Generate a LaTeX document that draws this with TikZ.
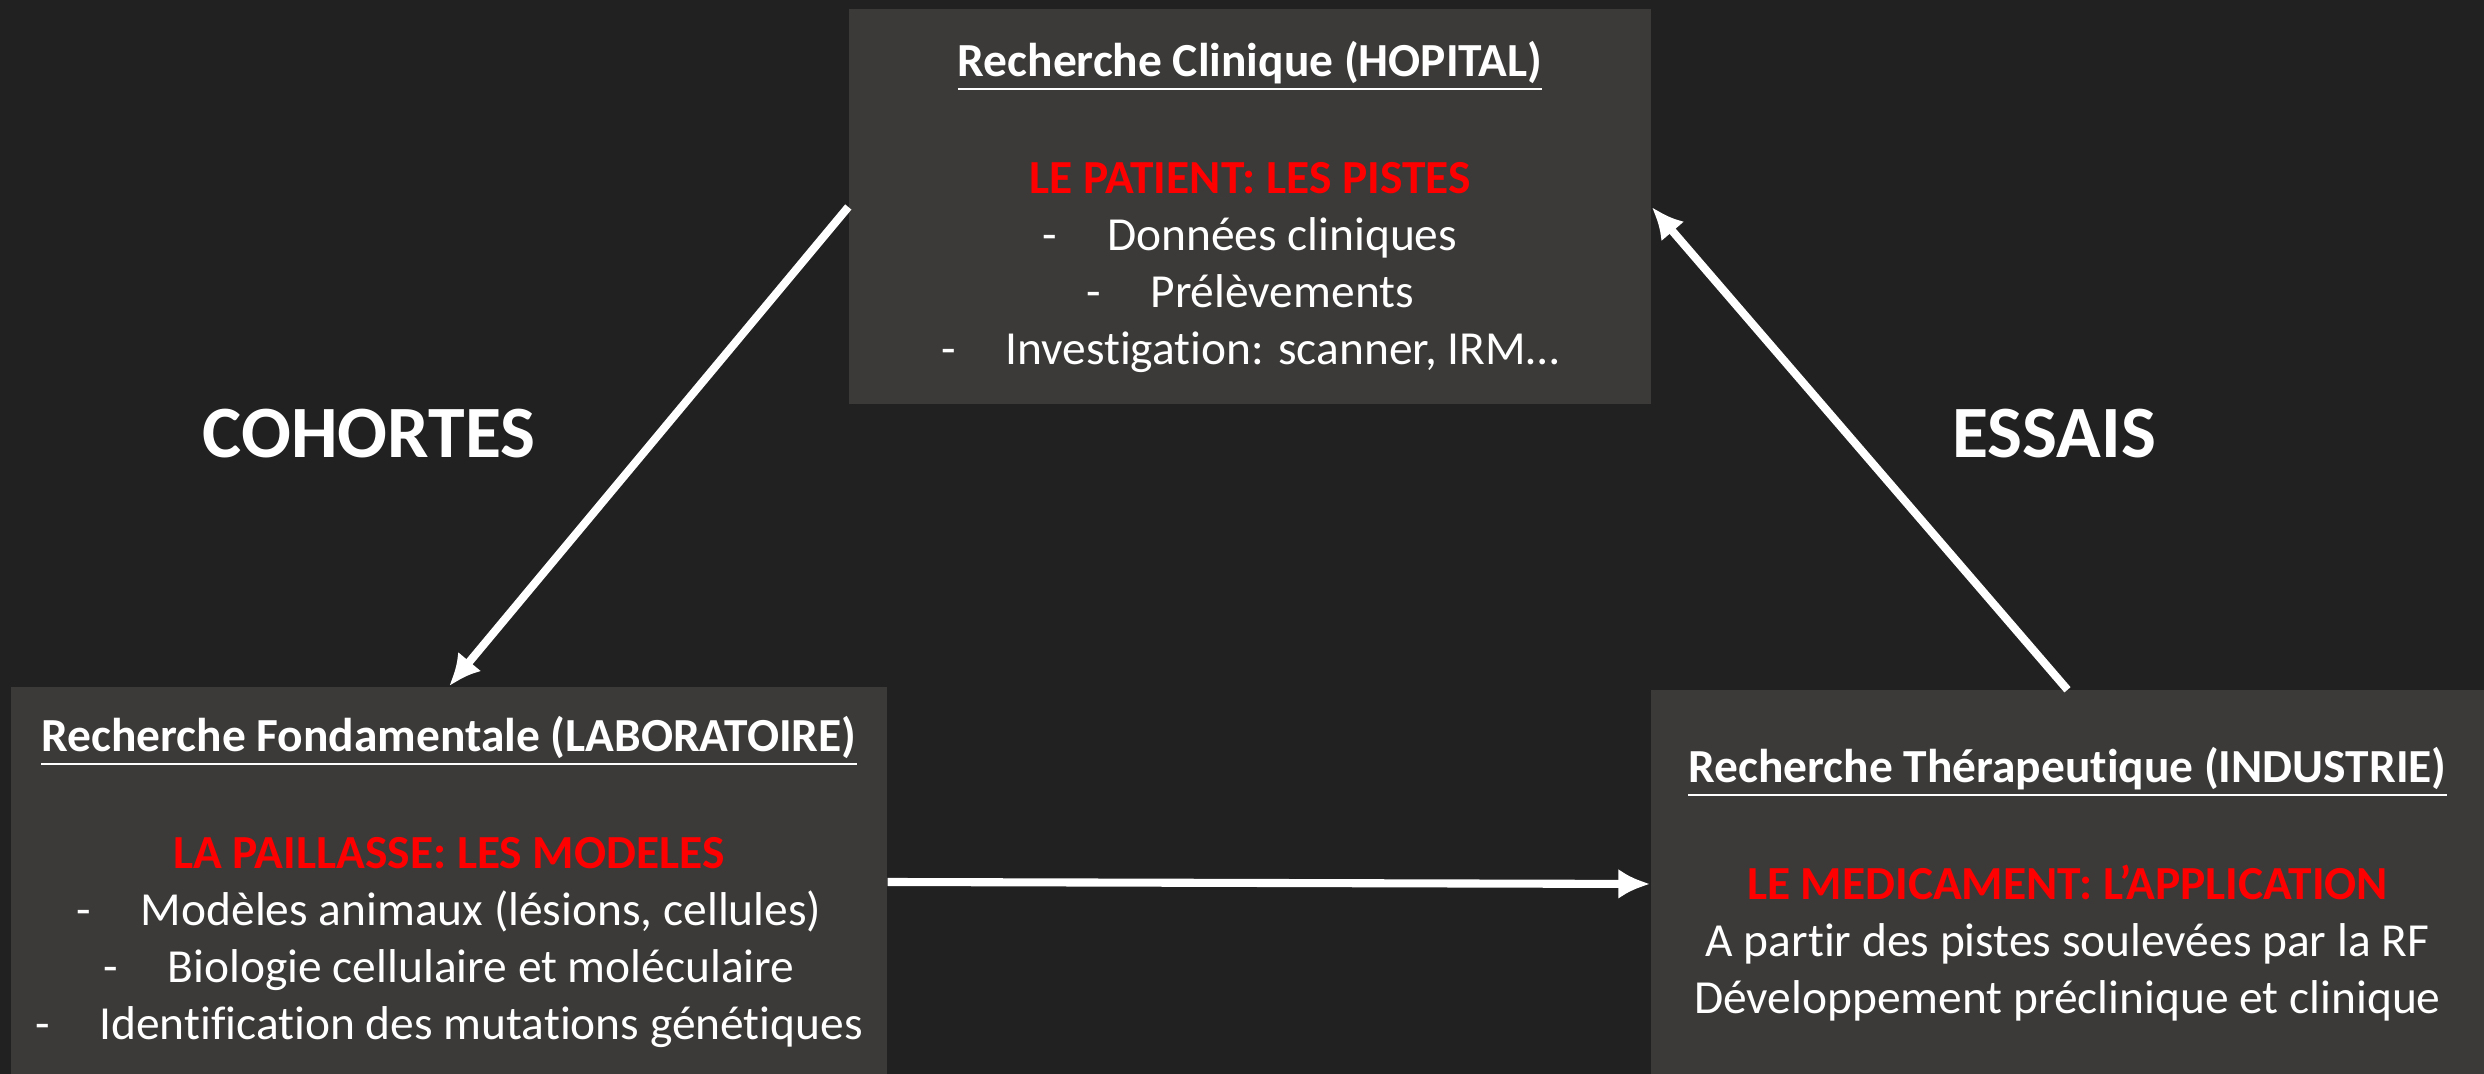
\documentclass[tikz,border=0pt]{standalone}
\usepackage{fontspec}
\setmainfont{Carlito}[Ligatures=NoCommon]
\usetikzlibrary{arrows.meta}
\definecolor{bgdark}{RGB}{32,33,32}
\definecolor{boxgrey}{RGB}{59,58,56}
\definecolor{pistered}{RGB}{255,0,0}
\newcommand{\tiret}{-\hspace{1.05em}}

\begin{document}
\begin{tikzpicture}[
    box/.style={fill=boxgrey, text=white, align=center, inner sep=0pt,
      font=\fontsize{13.5}{16.2}\selectfont},
    lien/.style={draw=white, line width=2.3pt, -{Latex[length=3.2mm,width=3mm]}},
    etiquette/.style={text=white, font=\fontsize{21}{25}\selectfont\bfseries}]
      %% background
      \useasboundingbox (0, 0) rectangle (24.84, 10.74);
      \fill [bgdark] (0, 0) rectangle (24.84, 10.74);
      %% boxes
      \node [box, minimum width=8.02cm, minimum height=3.95cm] (clin) at (12.50, 8.67)
        {\textbf{\underline{Recherche Clinique (HOPITAL)}}\\[17pt]
         \textcolor{pistered}{\textbf{LE PATIENT: LES PISTES}}\\
         \tiret Données cliniques\\
         \tiret Prélèvements\\
         \tiret Investigation: scanner, IRM…};
      \node [box, minimum width=8.76cm, minimum height=3.90cm] (labo) at (4.49, 1.92)
        {\textbf{\underline{Recherche Fondamentale (LABORATOIRE)}}\\[17pt]
         \textcolor{pistered}{\textbf{LA PAILLASSE: LES MODELES}}\\
         \tiret Modèles animaux (lésions, cellules)\\
         \tiret Biologie cellulaire et moléculaire\\
         \tiret Identification des mutations génétiques};
      \node [box, minimum width=8.33cm, minimum height=3.87cm] (indus) at (20.675, 1.90)
        {\textbf{\underline{Recherche Thérapeutique (INDUSTRIE)}}\\[17pt]
         \textcolor{pistered}{\textbf{LE MEDICAMENT: L’APPLICATION}}\\
         A partir des pistes soulevées par la RF\\
         Développement préclinique et clinique};
      %% labels
      \node [etiquette] (coh) at (3.69, 6.40) {COHORTES};
      \node [etiquette] (ess) at (20.54, 6.40) {ESSAIS};
      %% arrows
      \draw [lien] (clin.west) -- (labo.north);
      \draw [lien] (labo.east) -- (indus.west);
      \draw [lien] (indus.north) -- (clin.east);
    \end{tikzpicture}
\end{document}
